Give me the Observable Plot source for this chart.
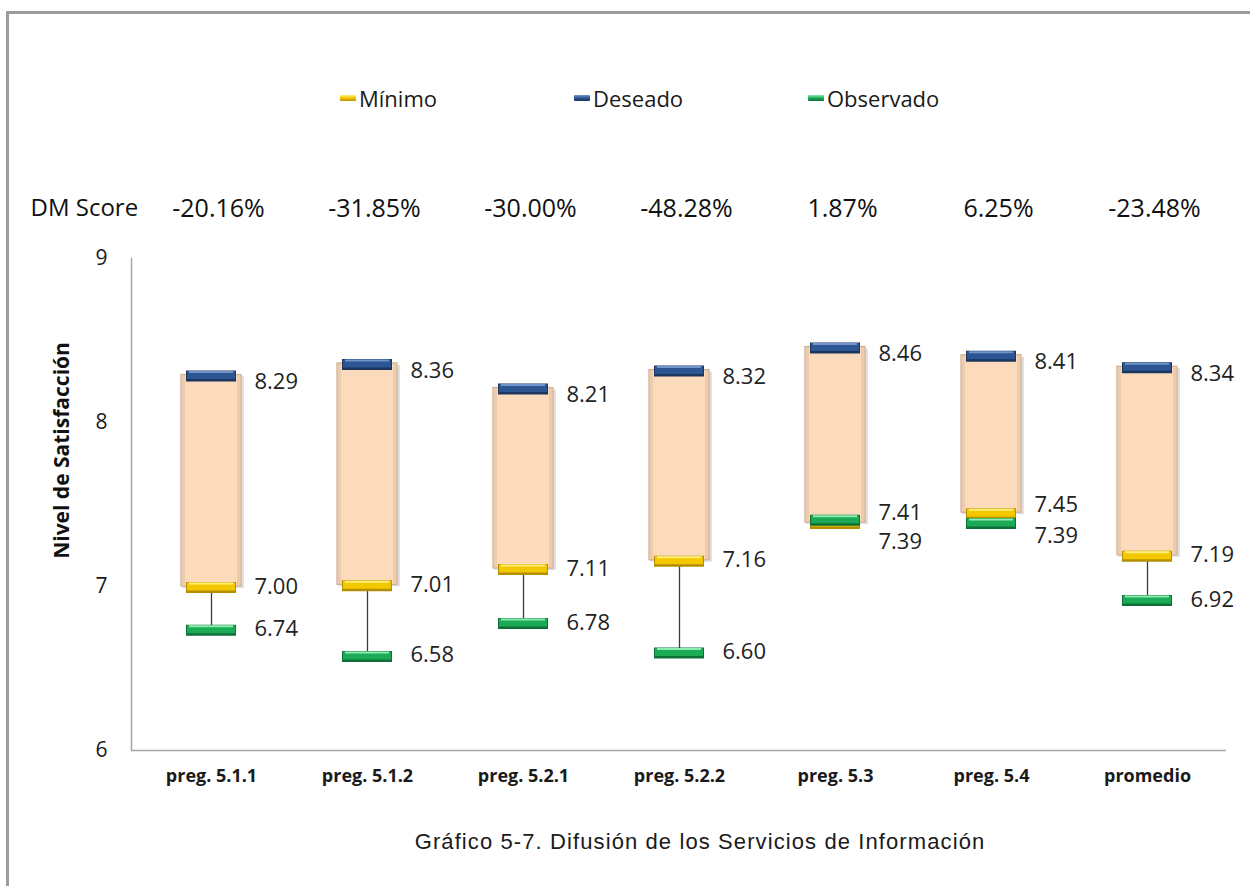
<!DOCTYPE html>
<html><head><meta charset="utf-8">
<script src="https://cdn.jsdelivr.net/npm/d3@7"></script>
<script src="https://cdn.jsdelivr.net/npm/@observablehq/plot@0.6"></script>
<style>
body{margin:0;background:#fff;}
#wrap{position:relative;width:1250px;height:886px;overflow:hidden;font-family:"Open Sans",sans-serif;background:#fff;}
#frame{position:absolute;left:6px;top:11px;width:1300px;height:950px;border-top:3px solid #9c9c9c;border-left:3px solid #9c9c9c;}
#chart{position:absolute;left:0;top:0;}
#legend{position:absolute;top:83px;left:340px;display:flex;}
.item{width:234px;display:flex;align-items:center;font-size:22px;color:#1a1a1a;line-height:30px;}
.sw{width:16px;height:6px;margin-right:3px;border-radius:1px;}
#caption{position:absolute;top:829px;left:0;width:1400px;text-align:center;font-family:"Liberation Sans",Arial,sans-serif;font-size:22px;letter-spacing:1.1px;color:#1a1a1a;}
</style></head>
<body>
<div id="wrap">
  <div id="frame"></div>
  <div id="chart"></div>
  <div id="legend"></div>
  <div id="caption">Gráfico 5-7. Difusión de los Servicios de Información</div>
</div>
<script>
const categories = ["preg. 5.1.1","preg. 5.1.2","preg. 5.2.1","preg. 5.2.2","preg. 5.3","preg. 5.4","promedio"];
const minimo    = [7.00, 7.01, 7.11, 7.16, 7.39, 7.45, 7.19];
const deseado   = [8.29, 8.36, 8.21, 8.32, 8.46, 8.41, 8.34];
const observado = [6.74, 6.58, 6.78, 6.60, 7.41, 7.39, 6.92];
const dmScore   = ["-20.16%","-31.85%","-30.00%","-48.28%","1.87%","6.25%","-23.48%"];
const yTicks = [6, 7, 8, 9];
const seriesNames = ["Mínimo", "Deseado", "Observado"];
const seriesColors = ["#F4C800", "#2C5591", "#1DAA57"];
const seriesDark = ["#B38F00", "#1A355E", "#0F7037"];
const seriesLight = ["#FFF07A", "#6F95CC", "#8EEBAF"];

// legend
const leg = document.getElementById("legend");
seriesNames.forEach((n, i) => {
  const it = document.createElement("div"); it.className = "item";
  const sw = document.createElement("span"); sw.className = "sw";
  sw.style.background = `linear-gradient(${seriesLight[i]}, ${seriesColors[i]} 50%, ${seriesDark[i]})`;
  it.appendChild(sw); it.appendChild(document.createTextNode(n));
  leg.appendChild(it);
});

const rows = categories.map((c, i) => ({
  cat: c, min: minimo[i], des: deseado[i], obs: observado[i], dm: dmScore[i],
  lo: Math.min(minimo[i], deseado[i], observado[i]),
  hi: Math.max(minimo[i], deseado[i], observado[i])
}));
const points = [];
rows.forEach(r => {
  const close = Math.abs(r.min - r.obs) < 0.1;
  points.push({cat: r.cat, s: 0, v: r.min, ldy: close ? (r.min >= r.obs ? -8 : 19) : 0});
  points.push({cat: r.cat, s: 1, v: r.des, ldy: 7});
  points.push({cat: r.cat, s: 2, v: r.obs, ldy: close ? (r.obs > r.min ? -6 : 13) : 0});
});

const markerMarks = [];
[0, 1, 2].forEach(s => {
  const d = points.filter(p => p.s === s);
  markerMarks.push(Plot.tickY(d, {x: "cat", y: "v", stroke: seriesDark[s], strokeWidth: 11, insetLeft: 53, insetRight: 53, dy: 1}));
  markerMarks.push(Plot.tickY(d, {x: "cat", y: "v", stroke: seriesColors[s], strokeWidth: 8, insetLeft: 54, insetRight: 54}));
  markerMarks.push(Plot.tickY(d, {x: "cat", y: "v", stroke: seriesLight[s], strokeWidth: 2, insetLeft: 56, insetRight: 56, dy: -3}));
});

const dyGroups = Array.from(new Set(points.map(p => p.ldy)));
const labelMarks = dyGroups.map(g => Plot.text(points.filter(p => p.ldy === g), {
  x: "cat", y: "v", text: d => d.v.toFixed(2), dx: 43, dy: g, textAnchor: "start", fontSize: 22, fill: "#222"
}));

const chart = Plot.plot({
  width: 1250, height: 800,
  marginLeft: 131, marginRight: 24, marginTop: 258, marginBottom: 50,
  style: {fontFamily: "'Open Sans', sans-serif", fontSize: "21px", color: "#1a1a1a", background: "transparent"},
  x: {domain: categories, padding: 0, label: null},
  y: {domain: [6, 9], label: null},
  marks: [
    Plot.ruleY([6], {stroke: "#A6A6A6", strokeWidth: 1.5}),
    Plot.frame({anchor: "left", stroke: "#A6A6A6", strokeWidth: 1.5}),
    Plot.ruleX(rows, {x: "cat", y1: "lo", y2: "hi", stroke: "#3a3a3a", strokeWidth: 1.3}),
    Plot.barY(rows, {x: "cat", y1: "min", y2: "des", insetLeft: 48, insetRight: 46, dx: 1, dy: 2, fill: "#000", fillOpacity: 0.12}),
    Plot.barY(rows, {x: "cat", y1: "min", y2: "des", insetLeft: 48, insetRight: 48, fill: "#FCDBBD", stroke: "#CDAC90", strokeWidth: 1.2}),
    Plot.barY(rows, {x: "cat", y1: "min", y2: "des", insetLeft: 49, insetRight: 104, fill: "#E3BFA0", fillOpacity: 0.6}),
    Plot.barY(rows, {x: "cat", y1: "min", y2: "des", insetLeft: 104, insetRight: 49, fill: "#E3BFA0", fillOpacity: 0.6}),
    ...markerMarks,
    ...labelMarks,
    Plot.axisY({ticks: yTicks, tickFormat: d => String(d), tickSize: 0, tickPadding: 24, label: null, fontSize: 21}),
    Plot.axisX({tickSize: 0, tickPadding: 19, fontWeight: "bold", fontSize: 18, label: null}),
    Plot.text(rows, {x: "cat", text: "dm", frameAnchor: "top", lineAnchor: "middle", dx: 7, dy: -50, fontSize: 25, fill: "#111"}),
    Plot.text(["DM Score"], {frameAnchor: "top-left", lineAnchor: "middle", dx: -101, dy: -50, textAnchor: "start", fontSize: 24, fill: "#111"}),
    Plot.text(["Nivel de Satisfacción"], {frameAnchor: "left", textAnchor: "middle", lineAnchor: "middle", dx: -69, dy: -54, rotate: -90, fontWeight: "bold", fontSize: 21, fill: "#111"})
  ]
});
document.getElementById("chart").appendChild(chart);
</script>
</body></html>
